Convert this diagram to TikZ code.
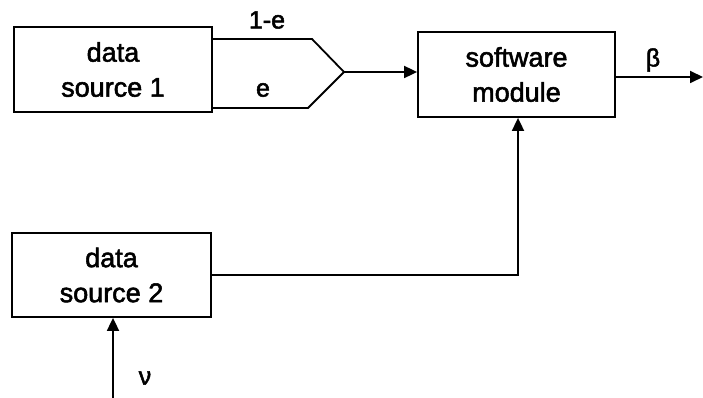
\documentclass[tikz,border=0pt]{standalone}
\usepackage{fontspec}
\setmainfont{Liberation Sans}[FakeBold=2]
\usetikzlibrary{arrows.meta,calc}
\begin{document}
\begin{tikzpicture}[x=1pt,y=-1pt,
  blk/.style={draw,line width=1.8pt,minimum width=#1,inner sep=0pt,align=center,
    font=\fontsize{27}{35}\selectfont},
  wire/.style={line width=1.8pt},
  arr/.style={wire,-{Triangle[length=13pt,width=12pt]}},
  lbl/.style={font=\fontsize{25}{28}\selectfont,inner sep=0pt}]
\useasboundingbox (0,0) rectangle (703,398);
\node[blk=198pt,minimum height=85pt] (ds1) at (113,69.5) {data\\source 1};
\node[blk=197pt,minimum height=85pt] (sw) at (516.5,74.5) {software\\module};
\node[blk=199pt,minimum height=84pt] (ds2) at (111.5,275) {data\\source 2};
\coordinate (u1) at (ds1.east |- 0,39);
\coordinate (u2) at (312,39);
\coordinate (l1) at (ds1.east |- 0,108);
\coordinate (l2) at (308,108);
\coordinate (m) at (344,72);
\coordinate (out) at (703,77);
\coordinate (vin) at (113,398);
\draw[wire] (u1) -- (u2) -- (m);
\draw[wire] (l1) -- (l2) -- (m);
\draw[arr] (m) -- (sw.west |- m);
\draw[arr] (sw.east |- out) -- (out);
\draw[arr] (ds2.east) -| (sw.south -| 518,0);
\draw[arr] (vin) -- (ds2.south -| vin);
\node[lbl] (l1e) at (267,20) {1-e};
\node[lbl] (le) at (263,90) {e};
\node[lbl] (lb) at (653,60) {β};
\node[lbl] (lv) at (145,378) {ν};
\end{tikzpicture}
\end{document}
